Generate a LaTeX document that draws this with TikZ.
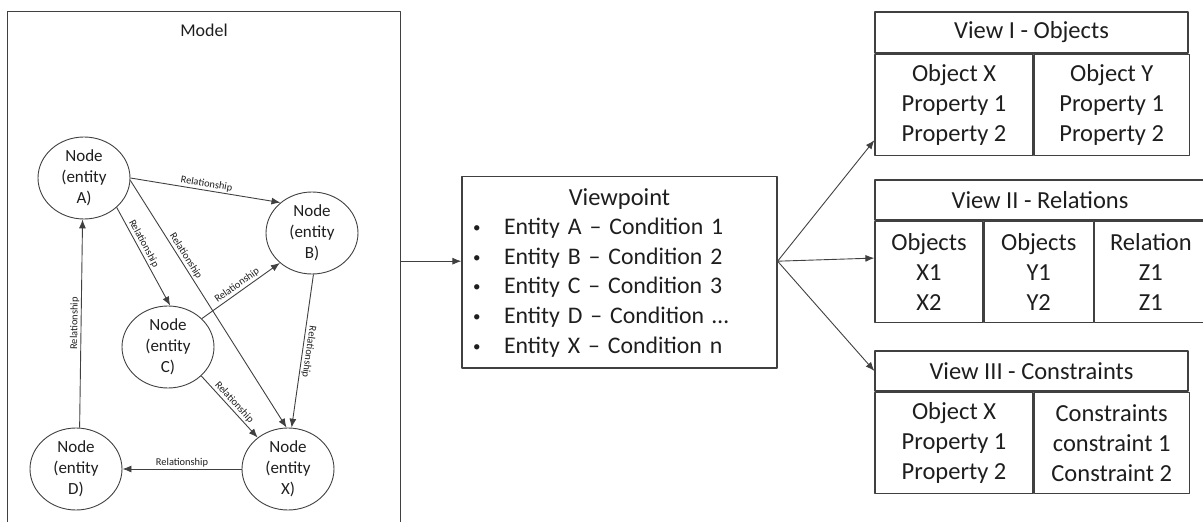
\documentclass[tikz,border=0pt]{standalone}
\usepackage{fontspec}
\setmainfont{Carlito}
\usetikzlibrary{shapes.geometric, arrows.meta}
\definecolor{linegray}{RGB}{64,64,64}
\definecolor{textgray}{RGB}{30,30,30}
\newcommand{\bigfont}{\fontsize{24.5}{30}\selectfont}
\newcommand{\vpfont}{\fontsize{23.8}{29.6}\selectfont}
\newcommand{\nodefont}{\fontsize{17}{21}\selectfont}
\newcommand{\relfont}{\fontsize{10.4}{12}\selectfont}
\newcommand{\vpitem}{\hspace*{11pt}\makebox[31pt][l]{\raisebox{2pt}{\fontsize{15}{15}\selectfont\textbullet}}}
\tikzstyle{arrow}  = [line width=0.9pt, draw=linegray, ->, >={Latex[length=9pt, width=7pt]}]
\tikzstyle{entity} = [draw=linegray, line width=0.9pt, ellipse, minimum width=92pt, minimum height=82pt, inner sep=0pt, align=center, font=\nodefont, text=textgray]
\tikzstyle{rel}    = [font=\relfont, sloped, above, inner sep=1.5pt, text=textgray]
\tikzstyle{head}   = [draw=linegray, line width=1.2pt, minimum height=41pt, inner sep=0pt, font=\bigfont, text=textgray]
\tikzstyle{cell}   = [draw=linegray, line width=1.2pt, minimum height=101pt, inner sep=0pt, anchor=north west, align=center, font=\bigfont, text=textgray]

\begin{document}
\begin{tikzpicture}[x=1pt, y=-1pt, line join=round]
\useasboundingbox (0,0) rectangle (1203,522);

% model
\node[minimum width=392pt, minimum height=510pt, inner sep=0pt] (model) at (204,267) {};
\draw[draw=linegray, line width=1.2pt] (model.south west) |- (model.north east) -- (model.south east);
\node[font=\fontsize{18}{22}\selectfont, text=textgray] (modeltitle) at (204,30) {Model};

% entity nodes
\node[entity] (A) at (84,178) {Node\\(entity\\A)};
\node[entity] (B) at (312,233) {Node\\(entity\\B)};
\node[entity] (C) at (168,347) {Node\\(entity\\C)};
\node[entity] (D) at (76,469) {Node\\(entity\\D)};
\node[entity] (X) at (288,469) {Node\\(entity\\X)};

% relationships
\draw[arrow] (A.east) -- node[rel] {Relationship} (B.136);
\draw[arrow] (A.-42) -- node[rel, pos=0.4] {Relationship} (C.87);
\draw[arrow] (A.-3) -- node[rel, pos=0.32] {Relationship} (X.92);
\draw[arrow] (C.40) -- node[rel] {Relationship} (B.-137);
\draw[arrow] (B.-88) -- node[rel, allow upside down] {Relationship} (X.85);
\draw[arrow] (C.-41) -- node[rel] {Relationship} (X.134);
\draw[arrow] (X.west) -- node[rel] {Relationship} (D.east);
\draw[arrow] (D.85) -- node[rel] {Relationship} (A.-92);

% viewpoint
\node[draw=linegray, line width=1.2pt, minimum width=315pt, minimum height=191.5pt, text width=315pt, text height=20pt, text depth=154.5pt, inner sep=0pt, align=left, font=\vpfont, text=textgray] (vp) at (619.5,272.25) {%
\makebox[\linewidth][c]{\fontsize{24.5}{29.6}\selectfont Viewpoint}\\
\vpitem Entity A – Condition 1\\
\vpitem Entity B – Condition 2\\
\vpitem Entity C – Condition 3\\
\vpitem Entity D – Condition …\\
\vpitem Entity X – Condition n};

% view I
\node[head, minimum width=313pt] (v1h) at (1031.5,32.5) {View I - Objects};
\node[cell, minimum width=158pt] (v1a) at (v1h.south west) {Object X\\Property 1\\Property 2};
\node[cell, minimum width=155pt] (v1b) at (v1a.north east) {Object Y\\Property 1\\Property 2};

% view II
\node[head, minimum width=330pt, minimum height=40pt] (v2h) at (1040,200) {View II - Relations};
\node[cell, minimum width=108pt] (v2a) at (v2h.south west) {Objects\\X1\\X2};
\node[cell, minimum width=109pt] (v2b) at (v2a.north east) {Objects\\Y1\\Y2};
\node[cell, minimum width=113pt] (v2c) at (v2b.north east) {Relation\\Z1\\Z1};

% view III
\node[head, minimum width=313pt, minimum height=40pt] (v3h) at (1031.5,371) {View III - Constraints};
\node[cell, minimum width=158pt] (v3a) at (v3h.south west) {Object X\\Property 1\\Property 2};
\node[cell, minimum width=155pt] (v3b) at (v3a.north east) {Constraints\\constraint 1\\Constraint 2};

% arrows between parts
\draw[arrow] (model.east |- vp.176) -- (vp.176);
\draw[arrow] (vp.4) -- (v1a.204);
\draw[arrow] (vp.4) -- (v2a.166);
\draw[arrow] (vp.4) -- (v3h.west);

\end{tikzpicture}
\end{document}
